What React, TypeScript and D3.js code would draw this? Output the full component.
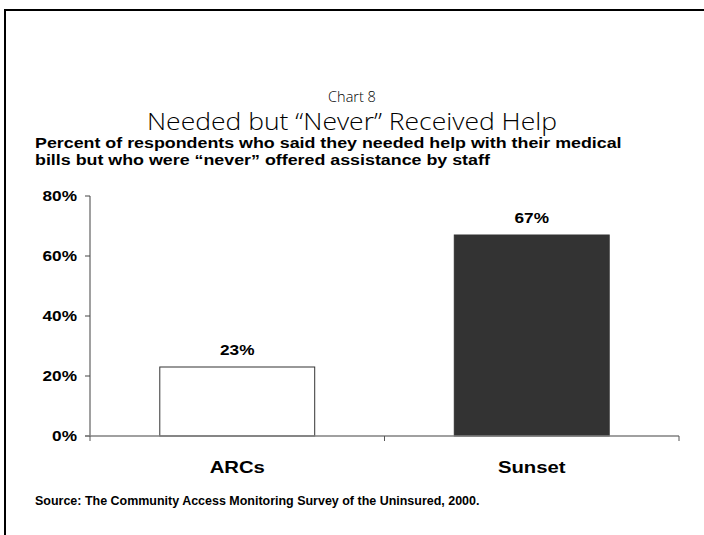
import * as d3 from "d3";

const categories = ["ARCs", "Sunset"];
const values = [23, 67];
const barColors = ["#ffffff", "#333333"];
const yTicks = [0, 20, 40, 60, 80];

const W = 704;
const H = 535;

// the original chart's Arial text is stretched wider than normal
const SX = 1.23;

export default function App() {
  const margin = { left: 90, right: 25, top: 196, bottom: 99 };
  const innerW = W - margin.left - margin.right;
  const innerH = H - margin.top - margin.bottom;

  const x = d3.scaleBand<string>()
    .domain(categories)
    .range([0, innerW])
    .paddingInner(0.474)
    .paddingOuter(0.237);

  const y = d3.scaleLinear().domain([0, 80]).range([innerH, 0]);

  const xEdges = d3.range(categories.length + 1).map(i => i * (innerW / categories.length));

  const bold = "'Liberation Sans', Arial, sans-serif";
  const light = "'Open Sans', 'DejaVu Sans', sans-serif";

  const wide = (tx: number, ty: number) => `translate(${tx},${ty}) scale(${SX},1)`;

  return (
    <svg width={W} height={H} style={{ position: "absolute", left: 0, top: 0, background: "#fff" }}>
      {/* frame */}
      <rect x={5} y={10} width={W + 10} height={H + 10} fill="none" stroke="#000" strokeWidth={2} />

      <text x={352} y={102} textAnchor="middle" fontFamily={light} fontWeight={300} fontSize={14.5}>Chart 8</text>
      <text x={352} y={130} textAnchor="middle" fontFamily={light} fontWeight={300} fontSize={23}
        textLength={410} lengthAdjust="spacingAndGlyphs">
        Needed but “Never” Received Help
      </text>

      <g transform={wide(35, 0)}>
        <text fontFamily={bold} fontWeight="bold" fontSize={14.5}>
          <tspan x={0} y={148}>Percent of respondents who said they needed help with their medical</tspan>
          <tspan x={0} y={165}>bills but who were “never” offered assistance by staff</tspan>
        </text>
      </g>

      <g transform={`translate(${margin.left},${margin.top})`}>
        {/* y axis */}
        <line x1={0} x2={0} y1={0} y2={innerH} stroke="#808080" strokeWidth={1.5} />
        {yTicks.map(t => (
          <g key={t}>
            <line x1={-5} x2={0} y1={y(t)} y2={y(t)} stroke="#444" />
            <text transform={wide(-13, y(t))} dy="0.35em" textAnchor="end"
              fontFamily={bold} fontWeight="bold" fontSize={14}>{t}%</text>
          </g>
        ))}

        {/* bars */}
        {categories.map((c, i) => {
          const cx = (x(c) ?? 0) + x.bandwidth() / 2;
          return (
            <g key={c}>
              <rect
                x={x(c)}
                y={y(values[i])}
                width={x.bandwidth()}
                height={innerH - y(values[i])}
                fill={barColors[i]}
                stroke="#333"
                strokeWidth={1}
              />
              <text transform={wide(cx, y(values[i]) - 12)} textAnchor="middle"
                fontFamily={bold} fontWeight="bold" fontSize={14}>
                {values[i]}%
              </text>
              <text transform={wide(cx, innerH + 37)} textAnchor="middle"
                fontFamily={bold} fontWeight="bold" fontSize={16.5}>
                {c}
              </text>
            </g>
          );
        })}

        {/* x axis */}
        <line x1={-5} x2={innerW} y1={innerH} y2={innerH} stroke="#808080" strokeWidth={1.5} />
        {xEdges.map((e, i) => (
          <line key={i} x1={e} x2={e} y1={innerH} y2={innerH + 5} stroke="#555" />
        ))}
      </g>

      <text transform={`translate(35,505) scale(1.04,1)`} fontFamily={bold} fontWeight="bold" fontSize={12}>
        Source: The Community Access Monitoring Survey of the Uninsured, 2000.
      </text>
    </svg>
  );
}
